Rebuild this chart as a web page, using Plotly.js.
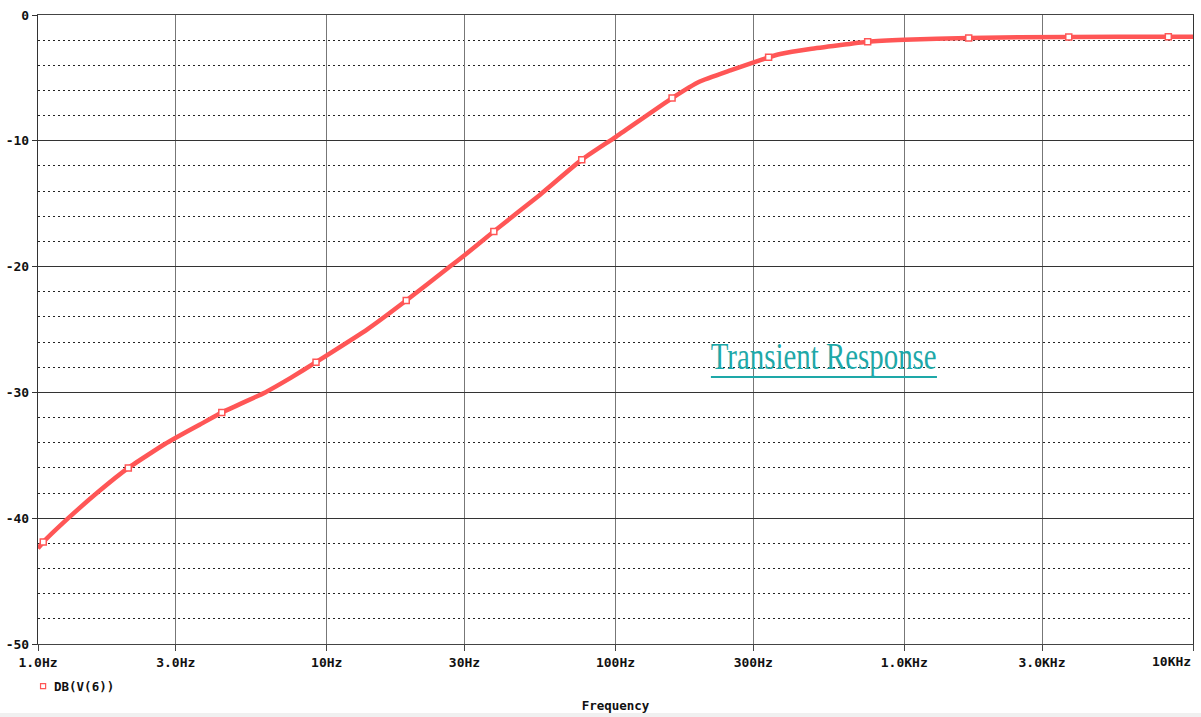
<!DOCTYPE html>
<html>
<head>
<meta charset="utf-8">
<script src="https://cdn.plot.ly/plotly-3.0.1.min.js"></script>
<style>html,body{margin:0;padding:0;background:#fff;}#chart{width:1201px;height:717px;}</style>
</head>
<body>
<div id="chart"></div>
<script>
// Frequency response curve DB(V(6))
const freqHz = [1, 1.043, 1.273, 1.618, 2.055, 2.75, 3, 3.64, 4.33, 6.12, 7.5, 9.18, 13.9, 18.85, 26.7, 30, 37.9, 54.7, 76.4, 100, 157, 195, 250, 339, 372, 472, 747, 1000, 1672, 3713, 8215, 10000];
const dbV6   = [-42.4, -41.9, -40.0, -37.9, -36.0, -34.1, -33.6, -32.55, -31.6, -30.0, -28.85, -27.6, -24.95, -22.7, -20.0, -19.1, -17.2, -14.3, -11.5, -9.7, -6.6, -5.3, -4.4, -3.36, -3.1, -2.7, -2.12, -1.96, -1.82, -1.74, -1.72, -1.72];

// Symbol markers placed along the trace
const markerFreqHz = [1.043, 2.055, 4.33, 9.18, 18.85, 37.9, 76.4, 157, 339, 747, 1672, 3713, 8215];
const markerDb     = [-41.9, -36.0, -31.6, -27.6, -22.7, -17.2, -11.5, -6.6, -3.36, -2.12, -1.82, -1.74, -1.72];

// Axis ticks
const xTickVals = [1, 3, 10, 30, 100, 300, 1000, 3000, 10000];
const xTickText = ['1.0Hz', '3.0Hz', '10Hz', '30Hz', '100Hz', '300Hz', '1.0KHz', '3.0KHz', '10KHz'];
const yTickVals = [0, -10, -20, -30, -40, -50];
const yTickText = ['0', '-10', '-20', '-30', '-40', '-50'];

const seriesName = 'DB(V(6))';
const noteText = 'Transient Response';

const RED = '#ff5656';
const TEAL = '#1ea8a8';
const MONO = 'DejaVu Sans Mono, Liberation Mono, monospace';

const traces = [
  {
    x: freqHz, y: dbV6, type: 'scatter', mode: 'lines',
    line: {color: RED, width: 4.5, shape: 'spline', smoothing: 0.4},
    showlegend: false, hoverinfo: 'skip'
  },
  {
    x: markerFreqHz, y: markerDb, type: 'scatter', mode: 'markers',
    name: seriesName,
    marker: {symbol: 'square', size: 6, color: '#ffffff', line: {color: RED, width: 1.5}},
    showlegend: false
  }
];

// The last tick label sits flush against the right edge (right-aligned), so it is drawn as an annotation
const lastIdx = xTickText.length - 1;
const shownTickText = xTickText.map(function (t, i) { return i === lastIdx ? '' : t; });

const layout = {
  width: 1201, height: 717,
  margin: {l: 38, r: 8, t: 15, b: 73},
  paper_bgcolor: '#ffffff', plot_bgcolor: '#ffffff',
  font: {family: MONO, color: '#111', size: 13},
  showlegend: false,
  xaxis: {
    type: 'log', range: [0, 4],
    tickvals: xTickVals, ticktext: shownTickText,
    showgrid: true, gridcolor: '#777', gridwidth: 1,
    showline: true, linecolor: '#444', linewidth: 1.2, mirror: true,
    ticks: 'outside', ticklen: 6, tickcolor: '#444',
    tickfont: {family: MONO, size: 13, weight: 'bold', color: '#111'},
    zeroline: false,
    title: {text: 'Frequency', font: {family: MONO, size: 12.5, weight: 'bold', color: '#111'}, standoff: 32}
  },
  yaxis: {
    range: [-50, 0],
    tickvals: yTickVals, ticktext: yTickText,
    showgrid: true, gridcolor: '#333', gridwidth: 1,
    showline: true, linecolor: '#333', linewidth: 1.2, mirror: true,
    ticks: 'outside', ticklen: 5, tickcolor: '#333',
    tickfont: {family: MONO, size: 13, weight: 'bold', color: '#111'},
    zeroline: false,
    minor: {dtick: 2, tick0: 0, showgrid: true, gridcolor: '#222', gridwidth: 1, griddash: '2px,3px', ticks: ''}
  },
  annotations: [
    {
      text: noteText, xref: 'x', yref: 'y', x: Math.log10(527), y: -27.12,
      xanchor: 'center', yanchor: 'middle', showarrow: false,
      font: {family: 'Liberation Serif, Times New Roman, serif', size: 38, color: TEAL}
    },
    {
      text: seriesName, xref: 'paper', yref: 'paper', x: 0.0125, y: -0.0668,
      xanchor: 'left', yanchor: 'middle', showarrow: false,
      font: {family: MONO, size: 12.5, weight: 'bold', color: '#111'}
    },
    {
      text: xTickText[lastIdx], xref: 'paper', yref: 'paper', x: 1, y: -0.0286,
      xanchor: 'right', yanchor: 'middle', showarrow: false,
      font: {family: MONO, size: 13, weight: 'bold', color: '#111'}
    }
  ],
  shapes: [
    {type: 'line', xref: 'x', yref: 'y', x0: 214, x1: 1298, y0: -28.78, y1: -28.78,
     line: {color: TEAL, width: 2}},
    {type: 'rect', xref: 'paper', yref: 'paper', x0: 0.0022, x1: 0.0066, y0: -0.0630, y1: -0.0710,
     fillcolor: '#ffffff', line: {color: RED, width: 1.2}},
    {type: 'rect', xref: 'paper', yref: 'paper', x0: -0.1, x1: 1.1, y0: -0.1097, y1: -0.125,
     fillcolor: '#f0f0f0', line: {width: 0}, layer: 'below'}
  ]
};

Plotly.newPlot('chart', traces, layout, {displayModeBar: false, staticPlot: true}).then(function () {
  // Narrow the serif note horizontally to match the reference's condensed lettering
  document.querySelectorAll('.annotation-text').forEach(function (t) {
    if (t.textContent === noteText) {
      t.setAttribute('textLength', '226');
      t.setAttribute('lengthAdjust', 'spacingAndGlyphs');
    }
  });
});
</script>
</body>
</html>
